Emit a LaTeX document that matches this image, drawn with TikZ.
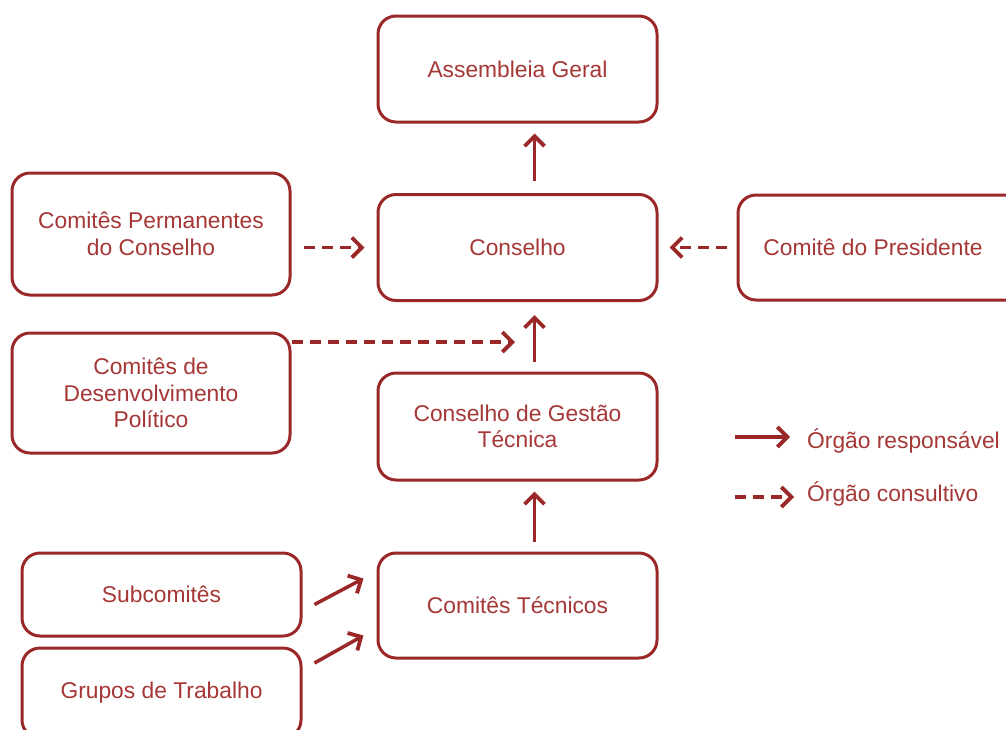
\documentclass[tikz,border=0pt]{standalone}
\usepackage{fontspec}
\setmainfont{Liberation Sans}
\usetikzlibrary{arrows.meta,calc}
\definecolor{boxred}{RGB}{155,40,40}
\definecolor{txtred}{RGB}{165,55,55}
\begin{document}
\begin{tikzpicture}[x=1pt,y=-1pt,
  orgbox/.style={draw=boxred, line width=3pt, rounded corners=18pt, fill=white,
    minimum width=279pt, minimum height=106pt, align=center, text=txtred,
    font=\fontsize{22.8}{26.5}\selectfont, inner sep=2pt},
  resparr/.style={draw=boxred, line width=3.5pt, -{Straight Barb[length=10pt,width=20pt,line width=3.8pt]}},
  consarr/.style={resparr, dash pattern=on 11pt off 7pt},
  legtext/.style={text=txtred, font=\fontsize{22.8}{26.5}\selectfont, anchor=west, inner sep=0pt}]
\useasboundingbox (0,0) rectangle (1006,729);
\node[orgbox] (ag) at (517.5,69) {Assembleia Geral};
\node[orgbox] (cons) at (517.5,247.5) {Conselho};
\node[orgbox, minimum width=278pt, minimum height=122pt] (cp) at (151,234) {Comitês Permanentes\\do Conselho};
\node[orgbox, minimum width=290pt, minimum height=105pt] (pres) at (883,247.5) {\hspace*{-20pt}Comitê do Presidente};
\node[orgbox, minimum width=278pt, minimum height=120pt] (cdp) at (151,393) {Comitês de\\Desenvolvimento\\Político};
\node[orgbox, minimum height=107pt] (cgt) at (517.5,426.5) {Conselho de Gestão\\Técnica};
\node[orgbox, minimum height=105pt] (ct) at (517.5,605.5) {Comitês Técnicos};
\node[orgbox, minimum height=83pt] (sub) at (161.5,594.5) {Subcomitês};
\node[orgbox, minimum height=90pt] (gt) at (161.5,693) {\raisebox{2pt}{Grupos de Trabalho}};
% solid arrows
\draw[resparr, shorten <=12pt, shorten >=10pt] ([xshift=17pt]cons.north) -- ([xshift=17pt]ag.south);
\draw[resparr, shorten <=10pt, shorten >=13pt] ([xshift=17pt]cgt.north) -- ([xshift=17pt]cons.south);
\draw[resparr, shorten <=10pt, shorten >=10pt] ([xshift=17pt]ct.north) -- ([xshift=17pt]cgt.south);
\draw[resparr] ($(sub.east)+(12,10)$) -- ($(ct.west)+(-13,-27)$);
\draw[resparr] ($(gt.east)+(12,-30)$) -- ($(ct.west)+(-13,30)$);
% dashed arrows
\draw[consarr, shorten <=12pt, shorten >=12pt] (cp.east |- cons.west) -- (cons.west);
\draw[consarr, shorten <=10pt, shorten >=11pt] (pres.west) -- (cons.east);
\coordinate (cdptip) at (515,342);
\draw[consarr] (cdp.east |- cdptip) -- (cdptip);
% legend
\coordinate (l1a) at (735,437);
\coordinate (l1b) at (790,437);
\coordinate (l2a) at (735,497);
\coordinate (l2b) at (794,497);
\draw[resparr] (l1a) -- (l1b);
\draw[consarr] (l2a) -- (l2b);
\node[legtext] (lt1) at (807,441) {Órgão responsável};
\node[legtext] (lt2) at (807,494) {Órgão consultivo};
\end{tikzpicture}
\end{document}
